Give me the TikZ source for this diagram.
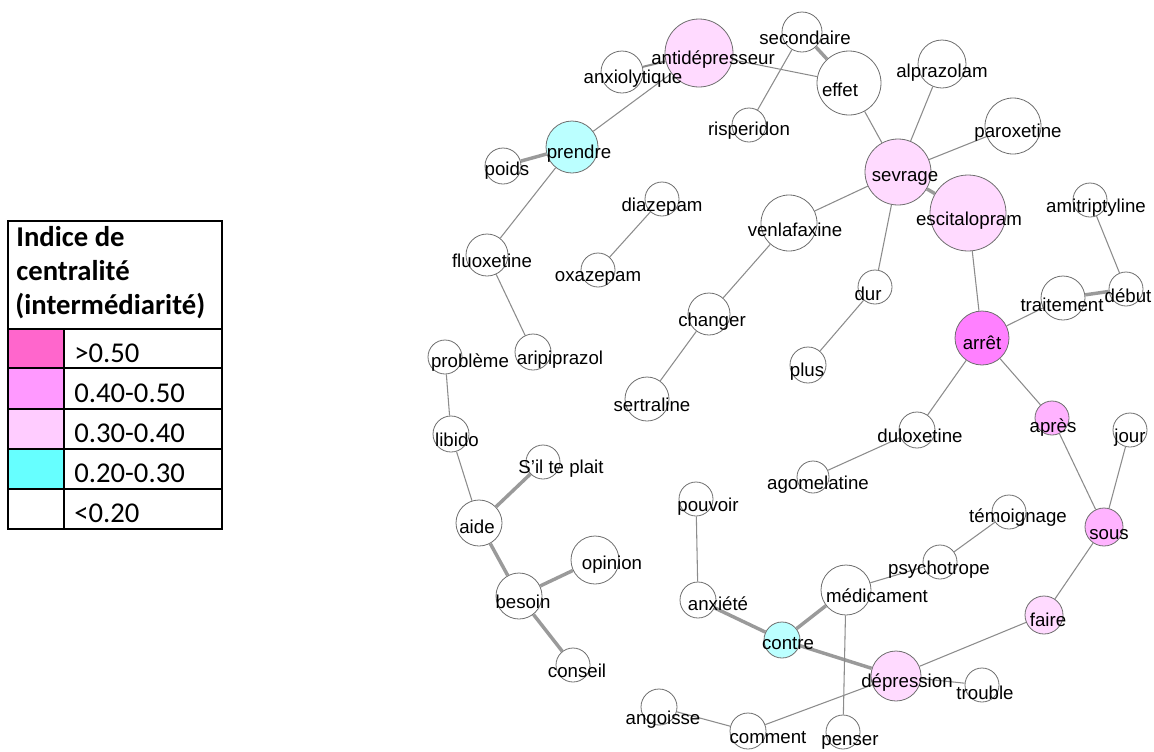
\documentclass[tikz,border=0pt]{standalone}
\usepackage{fontspec}
\setmainfont{Liberation Sans}
\newfontfamily\legendfont{Carlito}
\usepackage{tikz}
\usetikzlibrary{arrows.meta}

\definecolor{nodeline}{HTML}{6E6E6E}
\definecolor{edgeline}{HTML}{8C8C8C}
\definecolor{heavyline}{HTML}{9A9A9A}
\definecolor{pinkA}{HTML}{FF80FF}
\definecolor{pinkB}{HTML}{FFB3FF}
\definecolor{pinkC}{HTML}{FFDAFF}
\definecolor{cyanA}{HTML}{BBFFFF}
\definecolor{legA}{HTML}{FF66CC}
\definecolor{legB}{HTML}{FF99FF}
\definecolor{legC}{HTML}{FFCCFF}
\definecolor{legD}{HTML}{66FFFF}

\begin{document}
\begin{tikzpicture}[x=0.75pt,y=-0.75pt,semithick,
	word/.style={circle,draw=nodeline,fill=white,inner sep=0pt,minimum size=#1*1.5pt},
	lbl/.style={anchor=mid,yshift=-3pt,inner sep=0pt,font=\fontsize{14}{16}\selectfont},
	tie/.style={draw=edgeline,line width=0.8pt},
	heavy/.style={draw=heavyline,line width=2.6pt},
	legtext/.style={anchor=base west,inner sep=0pt,font=\legendfont\fontsize{21.5}{25}\selectfont}]
	\useasboundingbox (0,0) rectangle (1154,751);

	% legend
	\fill[legA] (8,329) rectangle (64,368);
	\fill[legB] (8,368) rectangle (64,409);
	\fill[legC] (8,409) rectangle (64,449);
	\fill[legD] (8,449) rectangle (64,489);
	\draw[line width=1.5pt] (8,221) rectangle (222,529);
	\foreach \y in {329,368,409,449,489}
		\draw[line width=1.5pt] (8,\y) -- (222,\y);
	\draw[line width=1.5pt] (64,329) -- (64,529);
	\node[legtext] (h1) at (16,246) {\bfseries Indice de};
	\node[legtext] (h2) at (16,280) {\bfseries centralité};
	\node[legtext] (h3) at (15,314) {\bfseries (intermédiarité)};
	\node[legtext] (r1) at (74,362) {>0.50};
	\node[legtext] (r2) at (74,402) {0.40-0.50};
	\node[legtext] (r3) at (74,442) {0.30-0.40};
	\node[legtext] (r4) at (74,482) {0.20-0.30};
	\node[legtext] (r5) at (74,522) {<0.20};

	% circles
	\node[word=34,fill=pinkC] (antidepresseur) at (699,53)  {};
	\node[word=21]            (anxiolytique)   at (622,72)  {};
	\node[word=20]            (secondaire)     at (802,32)  {};
	\node[word=32]            (effet)          at (849,83)  {};
	\node[word=17]            (risperidon)     at (749,125) {};
	\node[word=26,fill=cyanA] (prendre)        at (572,147) {};
	\node[word=18]            (poids)          at (503,166) {};
	\node[word=17]            (diazepam)       at (662,199) {};
	\node[word=24]            (alprazolam)     at (942,64)  {};
	\node[word=28]            (paroxetine)     at (1013,126) {};
	\node[word=33,fill=pinkC] (sevrage)        at (898,172) {};
	\node[word=38,fill=pinkC] (escitalopram)   at (968,213) {};
	\node[word=17]            (amitriptyline)  at (1090,200) {};
	\node[word=28]            (venlafaxine)    at (789,223) {};
	\node[word=17]            (dur)            at (875,287) {};
	\node[word=18]            (plus)           at (808,365) {};
	\node[word=27,fill=pinkA] (arret)          at (982,338) {};
	\node[word=22]            (traitement)     at (1063,298) {};
	\node[word=17]            (debut)          at (1126,289) {};
	\node[word=17,fill=pinkB] (apres)          at (1052,418) {};
	\node[word=17]            (jour)           at (1130,430) {};
	\node[word=18]            (duloxetine)     at (917,430) {};
	\node[word=16]            (agomelatine)    at (813,477) {};
	\node[word=21]            (fluoxetine)     at (487,255) {};
	\node[word=17]            (oxazepam)       at (598,270) {};
	\node[word=21]            (changer)        at (709,314) {};
	\node[word=17]            (probleme)       at (445,357) {};
	\node[word=18]            (aripiprazol)    at (533,352) {};
	\node[word=22]            (sertraline)     at (647,399) {};
	\node[word=18]            (libido)         at (451,434) {};
	\node[word=17]            (plait)          at (543,462) {};
	\node[word=23]            (aide)           at (479,523) {};
	\node[word=24]            (opinion)        at (595,560) {};
	\node[word=23]            (besoin)         at (519,596) {};
	\node[word=17]            (conseil)        at (573,665) {};
	\node[word=18]            (angoisse)       at (659,707) {};
	\node[word=17]            (pouvoir)        at (696,499) {};
	\node[word=18]            (anxiete)        at (698,600) {};
	\node[word=25]            (medicament)     at (846,590) {};
	\node[word=18,fill=cyanA] (contre)         at (782,640) {};
	\node[word=25,fill=pinkC] (depression)     at (896,676) {};
	\node[word=18]            (comment)        at (748,731) {};
	\node[word=17]            (penser)         at (843,732) {};
	\node[word=17]            (psychotrope)    at (940,562) {};
	\node[word=17]            (temoignage)     at (1009,512) {};
	\node[word=19,fill=pinkB] (sous)           at (1104,527) {};
	\node[word=19,fill=pinkC] (faire)          at (1044,615) {};
	\node[word=17]            (trouble)        at (982,685) {};

	% links
	\path[tie] (antidepresseur) -- (effet);
	\path[tie] (antidepresseur) -- (prendre);
	\path[tie,line width=1.5pt] (anxiolytique) -- (antidepresseur);
	\path[heavy] (secondaire) -- (effet);
	\path[tie] (secondaire) -- (risperidon);
	\path[heavy] (prendre) -- (poids);
	\path[tie] (prendre) -- (fluoxetine);
	\path[tie] (fluoxetine) -- (aripiprazol);
	\path[tie] (diazepam) -- (oxazepam);
	\path[tie] (effet) -- (sevrage);
	\path[tie] (alprazolam) -- (sevrage);
	\path[tie] (paroxetine) -- (sevrage);
	\path[heavy] (sevrage) -- (escitalopram);
	\path[tie] (sevrage) -- (venlafaxine);
	\path[tie] (sevrage) -- (dur);
	\path[tie] (venlafaxine) -- (changer);
	\path[tie] (changer) -- (sertraline);
	\path[tie] (dur) -- (plus);
	\path[tie] (escitalopram) -- (arret);
	\path[tie] (arret) -- (traitement);
	\path[heavy] (traitement) -- (debut);
	\path[tie] (amitriptyline) -- (debut);
	\path[tie] (arret) -- (duloxetine);
	\path[tie] (duloxetine) -- (agomelatine);
	\path[tie] (arret) -- (apres);
	\path[tie] (apres) -- (sous);
	\path[tie] (jour) -- (sous);
	\path[tie] (sous) -- (faire);
	\path[tie] (faire) -- (depression);
	\path[tie] (probleme) -- (libido);
	\path[tie] (libido) -- (aide);
	\path[heavy] (aide) -- (plait);
	\path[heavy] (aide) -- (besoin);
	\path[heavy] (besoin) -- (opinion);
	\path[heavy] (besoin) -- (conseil);
	\path[tie] (pouvoir) -- (anxiete);
	\path[heavy] (anxiete) -- (contre);
	\path[heavy] (contre) -- (medicament);
	\path[heavy] (contre) -- (depression);
	\path[tie] (medicament) -- (psychotrope);
	\path[tie] (psychotrope) -- (temoignage);
	\path[tie] (medicament) -- (penser);
	\path[tie] (depression) -- (comment);
	\path[tie] (angoisse) -- (comment);
	\path[tie] (depression) -- (trouble);

	% words
	\node[lbl] (t-antidepresseur) at (713,57)  {antidépresseur};
	\node[lbl] (t-anxiolytique)   at (633,76)  {anxiolytique};
	\node[lbl] (t-secondaire)     at (805,37)  {secondaire};
	\node[lbl] (t-effet)          at (840,89)  {effet};
	\node[lbl] (t-risperidon)     at (749,128) {risperidon};
	\node[lbl] (t-prendre)        at (579,151) {prendre};
	\node[lbl] (t-poids)          at (507,168) {poids};
	\node[lbl] (t-diazepam)       at (662,204) {diazepam};
	\node[lbl] (t-alprazolam)     at (942,70)  {alprazolam};
	\node[lbl] (t-paroxetine)     at (1018,130) {paroxetine};
	\node[lbl] (t-sevrage)        at (905,174) {sevrage};
	\node[lbl] (t-escitalopram)   at (969,218) {escitalopram};
	\node[lbl] (t-amitriptyline)  at (1096,205) {amitriptyline};
	\node[lbl] (t-venlafaxine)    at (795,229) {venlafaxine};
	\node[lbl] (t-dur)            at (868,293) {dur};
	\node[lbl] (t-plus)           at (807,369) {plus};
	\node[lbl] (t-arret)          at (982,342) {arrêt};
	\node[lbl] (t-traitement)     at (1062,304) {traitement};
	\node[lbl] (t-debut)          at (1128,295) {début};
	\node[lbl] (t-apres)          at (1053,425) {après};
	\node[lbl] (t-jour)           at (1130,435) {jour};
	\node[lbl] (t-duloxetine)     at (920,435) {duloxetine};
	\node[lbl] (t-agomelatine)    at (818,482) {agomelatine};
	\node[lbl] (t-fluoxetine)     at (492,260) {fluoxetine};
	\node[lbl] (t-oxazepam)       at (598,274) {oxazepam};
	\node[lbl] (t-changer)        at (712,319) {changer};
	\node[lbl] (t-probleme)       at (470,360) {problème};
	\node[lbl] (t-aripiprazol)    at (560,357) {aripiprazol};
	\node[lbl] (t-sertraline)     at (652,404) {sertraline};
	\node[lbl] (t-libido)         at (457,439) {libido};
	\node[lbl] (t-plait)          at (561,466) {S’il te plait};
	\node[lbl] (t-aide)           at (477,526) {aide};
	\node[lbl] (t-opinion)        at (612,562) {opinion};
	\node[lbl] (t-besoin)         at (523,601) {besoin};
	\node[lbl] (t-conseil)        at (577,670) {conseil};
	\node[lbl] (t-angoisse)       at (663,717) {angoisse};
	\node[lbl] (t-pouvoir)        at (708,504) {pouvoir};
	\node[lbl] (t-anxiete)        at (718,603) {anxiété};
	\node[lbl] (t-medicament)     at (877,595) {médicament};
	\node[lbl] (t-contre)         at (788,642) {contre};
	\node[lbl] (t-depression)     at (907,680) {dépression};
	\node[lbl] (t-comment)        at (768,736) {comment};
	\node[lbl] (t-penser)         at (850,738) {penser};
	\node[lbl] (t-psychotrope)    at (939,567) {psychotrope};
	\node[lbl] (t-temoignage)     at (1018,515) {témoignage};
	\node[lbl] (t-sous)           at (1109,532) {sous};
	\node[lbl] (t-faire)          at (1048,619) {faire};
	\node[lbl] (t-trouble)        at (985,692) {trouble};
\end{tikzpicture}
\end{document}
